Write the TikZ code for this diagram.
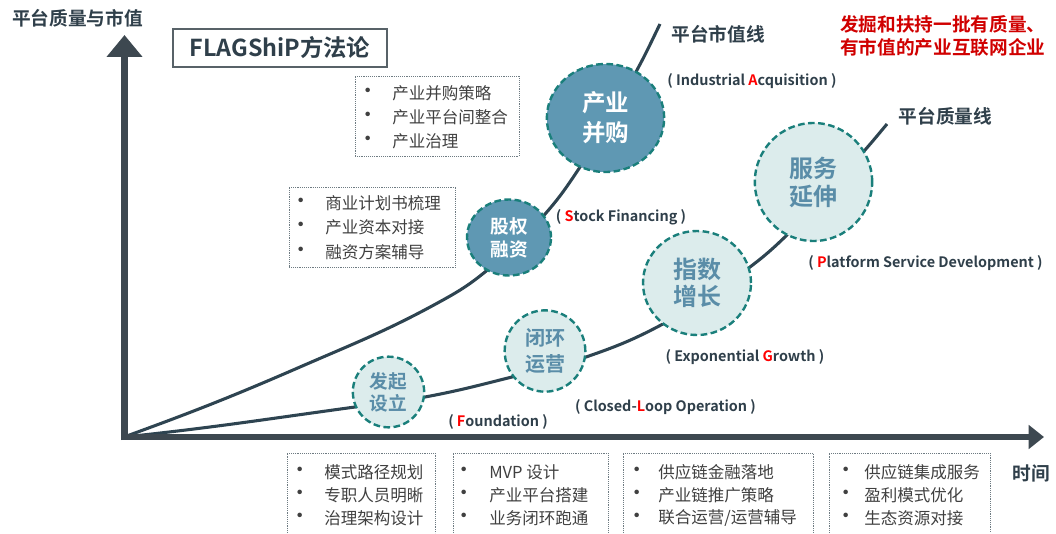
\documentclass[tikz,border=0pt]{standalone}
\usepackage{fontspec}
\setmainfont{Noto Sans CJK SC}[BoldFont={Noto Sans CJK SC Bold}]
\usetikzlibrary{shapes.geometric,arrows.meta}
\definecolor{axiscol}{HTML}{3D4850}
\definecolor{curvecol}{HTML}{2E4451}
\definecolor{darkfill}{HTML}{5F98B3}
\definecolor{lightfill}{HTML}{DCECEC}
\definecolor{dashcol}{HTML}{1A7F7B}
\definecolor{lighttext}{HTML}{5A8DA8}
\definecolor{boxcol}{HTML}{6E7B82}
\definecolor{bultext}{HTML}{404040}
\definecolor{labtext}{HTML}{2F3F4A}
\definecolor{redl}{HTML}{FF0000}
\definecolor{redtitle}{HTML}{D00000}
\begin{document}
\begin{tikzpicture}[x=0.75pt,y=0.75pt,
  curve/.style={draw=curvecol,line width=2.3pt},
  dcirc/.style={ellipse,draw=dashcol,line width=1.8pt,dash pattern=on 5pt off 2.6pt,fill=darkfill,text=white,inner sep=0pt,align=center},
  lcirc/.style={ellipse,draw=dashcol,line width=1.8pt,dash pattern=on 5pt off 2.6pt,fill=lightfill,text=lighttext,inner sep=0pt,align=center},
  dbox/.style={draw=boxcol,line width=0.7pt,dash pattern=on 0.7pt off 0.7pt},
  btxt/.style={anchor=west,inner sep=0pt,text=bultext,font=\fontsize{12.4}{14}\selectfont},
  bul/.style={inner sep=0pt,text=bultext,font=\fontsize{16}{16}\selectfont},
  lab/.style={inner sep=0pt,text=labtext,font=\fontsize{10.8}{13}\selectfont\bfseries},
  ttl/.style={inner sep=0pt,text=labtext,font=\fontsize{14}{16}\selectfont\bfseries}]
\useasboundingbox (0,0) rectangle (1056,533);

% curve way points
\coordinate (O) at (124,96);
\coordinate (m1) at (300,166);
\coordinate (m2) at (443,233);
\coordinate (m3) at (485,261);
\coordinate (m4) at (546,320);
\coordinate (m5) at (580,366);
\coordinate (m6) at (637,463);
\coordinate (M) at (660,509);
\coordinate (q1) at (355,126);
\coordinate (q2) at (425,136);
\coordinate (q3) at (512,156);
\coordinate (q4) at (586,176);
\coordinate (q5) at (661,208);
\coordinate (q6) at (750,266);
\coordinate (q7) at (787,298);
\coordinate (q8) at (865,383);
\coordinate (Q) at (887,409);

\draw[curve] (O) to[out=20,in=203.5] (m1) to[out=23.5,in=209] (m2)
  to[out=29,in=219] (m3) to[out=39,in=229] (m4) to[out=49,in=236.5] (m5)
  to[out=56.5,in=241.5] (m6) to[out=61.5,in=244] (M);
\draw[curve] (O) to[out=6,in=187.8] (q1) to[out=7.8,in=190.5] (q2)
  to[out=10.5,in=194] (q3) to[out=14,in=199] (q4) to[out=19,in=208] (q5)
  to[out=28,in=217] (q6) to[out=37,in=224] (q7) to[out=44,in=228.6] (q8)
  to[out=48.6,in=230] (Q);

% axes
\coordinate (ybot) at (124.5,93);
\coordinate (ytop) at (124.5,498);
\coordinate (xl) at (121,96);
\coordinate (xr) at (1044,96);
\draw[axiscol,line width=5pt,-{Triangle[length=16.5pt,width=26pt]}] (ybot) -- (ytop);
\draw[axiscol,line width=4.2pt,-{Triangle[length=11.5pt,width=17.5pt]}] (xl) -- (xr);

% circles
\node[lcirc,minimum width=53.5pt,minimum height=53pt,font=\fontsize{14}{16.3}\selectfont\bfseries] (fq) at (388.5,141) {发起\\设立};
\node[lcirc,minimum width=60.5pt,minimum height=61pt,font=\fontsize{15}{20}\selectfont\bfseries] (bh) at (545,182) {闭环\\运营};
\node[lcirc,minimum width=81pt,minimum height=78pt,font=\fontsize{18}{20.5}\selectfont\bfseries] (zs) at (697,250) {指数\\增长};
\node[lcirc,minimum width=88pt,minimum height=88.5pt,font=\fontsize{18}{21}\selectfont\bfseries] (fw) at (813.5,351) {服务\\延伸};
\node[dcirc,minimum width=63pt,minimum height=57pt,font=\fontsize{14}{17.3}\selectfont\bfseries] (gq) at (509,295.5) {股权\\融资};
\node[dcirc,minimum width=88pt,minimum height=81pt,font=\fontsize{17.6}{22.5}\selectfont\bfseries] (cy) at (605.5,415) {产业\\并购};

% line labels
\node[ttl] (mkt) at (718,499) {平台市值线};
\node[ttl] (qlt) at (945.5,417) {平台质量线};
\node[ttl] (yax) at (77.5,515) {平台质量与市值};
\node[ttl] (xax) at (1031,60) {时间};

% red slogan
\node[inner sep=0pt,anchor=west,text=redtitle,font=\fontsize{14}{16}\selectfont\bfseries] (red1) at (840,509) {发掘和扶持一批有质量、};
\node[inner sep=0pt,anchor=west,text=redtitle,font=\fontsize{14}{16}\selectfont\bfseries] (red2) at (840,486) {有市值的产业互联网企业};

% title box
\node[draw=boxcol!80!black,line width=1.1pt,minimum width=160.5pt,minimum height=28.5pt,inner sep=0pt,text=labtext,font=\fontsize{17.5}{19}\selectfont\bfseries] (flag) at (280,485) {FLAGShiP方法论};

% english labels
\node[lab] (lA) at (752,452) {( Industrial \textcolor{redl}{A}cquisition )};
\node[lab] (lS) at (621,316) {( \textcolor{redl}{S}tock Financing )};
\node[lab] (lP) at (925.5,270) {( \textcolor{redl}{P}latform Service Development )};
\node[lab] (lG) at (745,176) {( Exponential \textcolor{redl}{G}rowth )};
\node[lab] (lL) at (665.5,126) {( Closed-\textcolor{redl}{L}oop Operation )};
\node[lab] (lF) at (498,111) {( \textcolor{redl}{F}oundation )};

% upper dotted boxes
\node[dbox,minimum width=123pt,minimum height=60pt] (box1) at (437,417) {};
\foreach \t [count=\i] in {产业并购策略,产业平台间整合,产业治理} {
  \node[bul] (b1d\i) at (368,{440-(\i-1)*24}) {•};
  \node[btxt] (b1t\i) at (392,{440-(\i-1)*24}) {\t};
}
\node[dbox,minimum width=125pt,minimum height=60pt] (box2) at (372.5,306) {};
\foreach \t [count=\i] in {商业计划书梳理,产业资本对接,融资方案辅导} {
  \node[bul] (b2d\i) at (301,{330-(\i-1)*24.5}) {•};
  \node[btxt] (b2t\i) at (325,{330-(\i-1)*24.5}) {\t};
}

% bottom dotted boxes (open at the bottom edge)
\draw[dbox] (287,0) |- (435,80) -- (435,0);
\draw[dbox] (453,0) |- (608,80) -- (608,0);
\draw[dbox] (623,0) |- (813,80) -- (813,0);
\draw[dbox] (829,0) |- (990,80) -- (990,0);
\foreach \t [count=\i] in {模式路径规划,专职人员明晰,治理架构设计} {
  \node[bul] (bad\i) at (300,{61-(\i-1)*23}) {•};
  \node[btxt] (bat\i) at (324,{61-(\i-1)*23}) {\t};
}
\foreach \t [count=\i] in {MVP 设计,产业平台搭建,业务闭环跑通} {
  \node[bul] (bbd\i) at (464,{61-(\i-1)*23}) {•};
  \node[btxt] (bbt\i) at (489,{61-(\i-1)*23}) {\t};
}
\foreach \t [count=\i] in {供应链金融落地,产业链推广策略,联合运营/运营辅导} {
  \node[bul] (bcd\i) at (637,{61-(\i-1)*23}) {•};
  \node[btxt] (bct\i) at (658,{61-(\i-1)*23}) {\t};
}
\foreach \t [count=\i] in {供应链集成服务,盈利模式优化,生态资源对接} {
  \node[bul] (bdd\i) at (846,{61-(\i-1)*23}) {•};
  \node[btxt] (bdt\i) at (864,{61-(\i-1)*23}) {\t};
}
\end{tikzpicture}
\end{document}
